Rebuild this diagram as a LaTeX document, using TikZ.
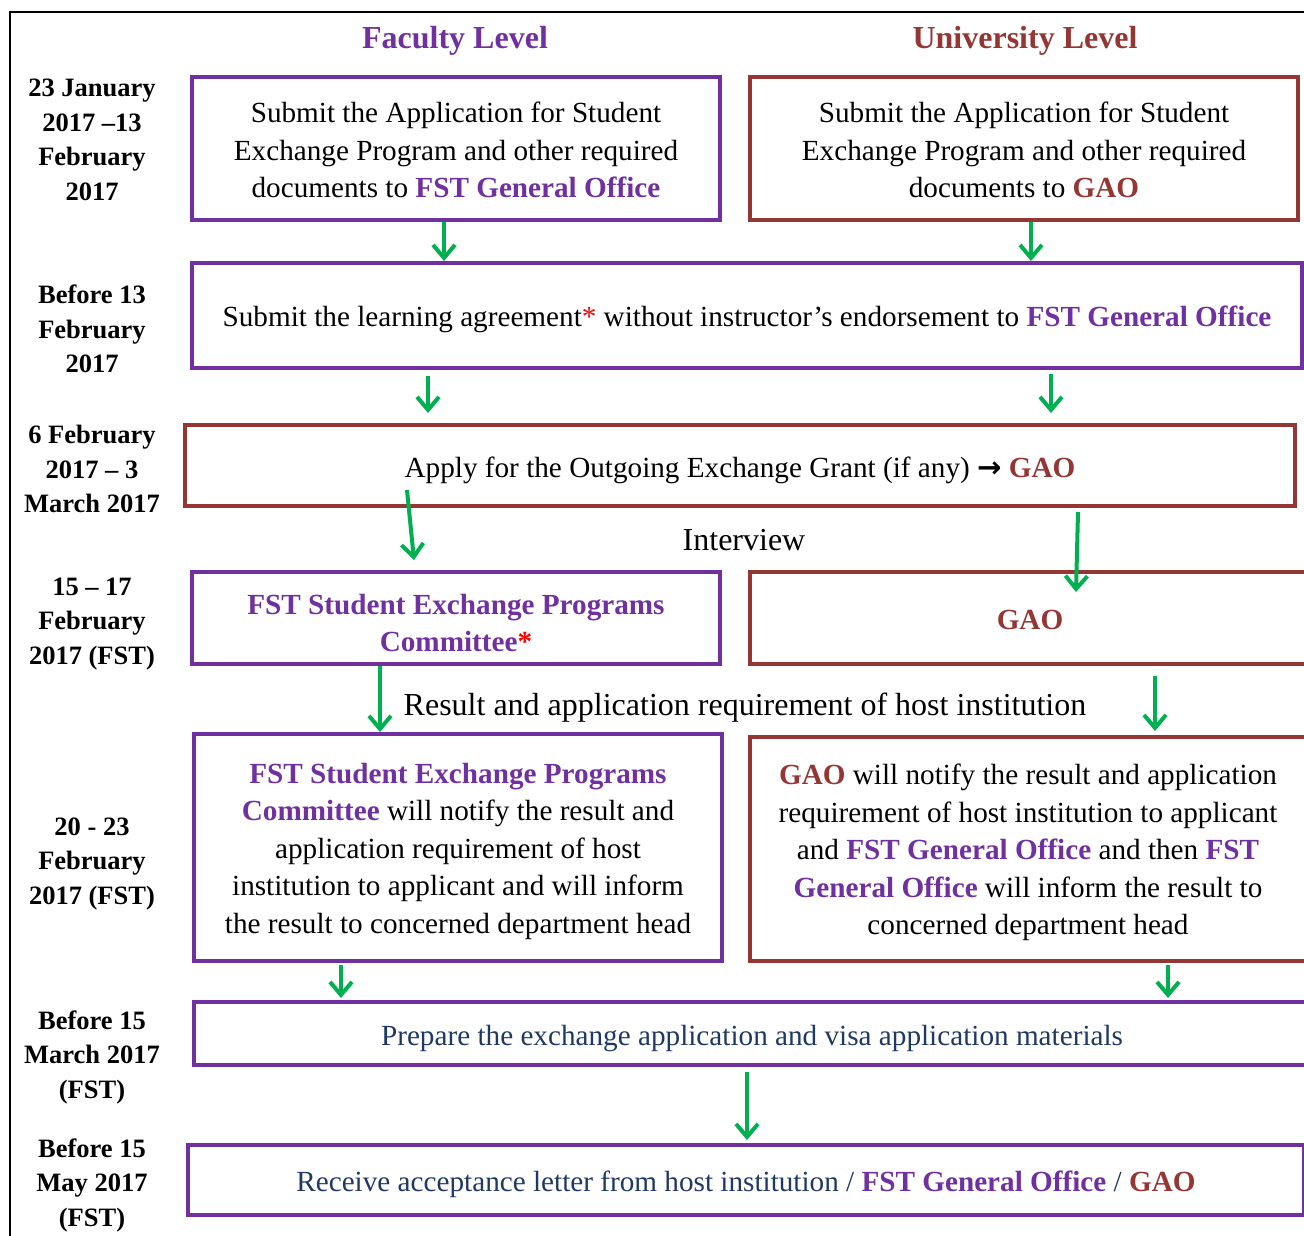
\documentclass[tikz,border=0pt]{standalone}
\usepackage{fontspec}
\setmainfont{Liberation Serif}
\newfontfamily\symfont{DejaVu Sans}
\usetikzlibrary{arrows.meta,calc}
\definecolor{purp}{HTML}{7030A0}
\definecolor{brn}{HTML}{943634}
\definecolor{grn}{HTML}{00B050}
\definecolor{navyc}{HTML}{1F3864}
\definecolor{astc}{HTML}{FF0000}
\newcommand{\purptext}[1]{\textbf{\textcolor{purp}{#1}}}
\newcommand{\brntext}[1]{\textbf{\textcolor{brn}{#1}}}
\newcommand{\redast}{\textcolor{astc}{*}}
\newcommand{\tup}[1]{\rule{0pt}{#1pt}}
\begin{document}
\begin{tikzpicture}[x=1pt,y=-1pt,
  boxp/.style={draw=purp,line width=4pt,inner sep=0pt,align=center,font=\fontsize{29.2}{37.5}\selectfont},
  boxb/.style={draw=brn,line width=4pt,inner sep=0pt,align=center,font=\fontsize{29.2}{37.5}\selectfont},
  datel/.style={align=center,font=\fontsize{26.5}{34.5}\selectfont\bfseries},
  lbl/.style={font=\fontsize{32}{38}\selectfont},
  hdr/.style={font=\fontsize{32}{38}\selectfont\bfseries},
  arr/.style={draw=grn,line width=4pt,-{Straight Barb[length=13pt,width=22pt,line width=4pt]}}]
\useasboundingbox (0,0) rectangle (1304,1236);
\clip (0,0) rectangle (1304,1236);
% frame
\draw[line width=2pt] (10,1240) -- (10,12) -- (1310,12);
% headers
\node[hdr,text=purp] (hfac) at (455,38) {\tup{28}Faculty Level};
\node[hdr,text=brn] (huni) at (1025,38) {\tup{28}University Level};
% dates
\node[datel] (d1) at (92,140) {23 January\\2017 --13\\February\\2017};
\node[datel] (d2) at (92,329) {Before 13\\February\\2017};
\node[datel] (d3) at (92,469) {6 February\\2017 -- 3\\March 2017};
\node[datel] (d4) at (92,624) {15 -- 17\\February\\2017 (FST)};
\node[datel] (d5) at (92,864) {20 - 23\\February\\2017 (FST)};
\node[datel] (d6) at (92,1057) {Before 15\\March 2017\\(FST)};
\node[datel] (d7) at (92,1185) {Before 15\\May 2017\\(FST)};
% boxes
\node[boxp,minimum width=528pt,minimum height=143pt] (b1) at (456,148.5)
  {\tup{24}Submit the Application for Student\\Exchange Program and other required\\documents to \purptext{FST General Office}};
\node[boxb,minimum width=548pt,minimum height=143pt] (b2) at (1024,148.5)
  {\tup{24}Submit the Application for Student\\Exchange Program and other required\\documents to \brntext{GAO}};
\node[boxp,minimum width=1110pt,minimum height=105pt] (b3) at (747,315.5)
  {\tup{28}Submit the learning agreement\redast{} without instructor’s endorsement to \purptext{FST General Office}};
\node[boxb,minimum width=1110pt,minimum height=81pt] (b4) at (740,465.5)
  {\tup{30}Apply for the Outgoing Exchange Grant (if any) {\symfont\bfseries →} \brntext{GAO}};
\node[boxp,minimum width=528pt,minimum height=92pt] (b5) at (456,618)
  {\tup{30}\purptext{FST Student Exchange Programs}\\\purptext{Committee}\textbf{\redast}};
\node[boxb,minimum width=560pt,minimum height=92pt] (b6) at (1030,618)
  {\tup{24}\brntext{GAO}};
\node[boxp,minimum width=528pt,minimum height=227pt] (b7) at (458,847.5)
  {\tup{28}\purptext{FST Student Exchange Programs}\\\purptext{Committee} will notify the result and\\application requirement of host\\institution to applicant and will inform\\the result to concerned department head};
\node[boxb,minimum width=556pt,minimum height=224pt] (b8) at (1028,849)
  {\tup{28}\brntext{GAO} will notify the result and application\\requirement of host institution to applicant\\and \purptext{FST General Office} and then \purptext{FST}\\\purptext{General Office} will inform the result to\\concerned department head};
\node[boxp,minimum width=1116pt,minimum height=63pt,text=navyc] (b9) at (752,1033.5)
  {\tup{30}Prepare the exchange application and visa application materials};
\node[boxp,minimum width=1116pt,minimum height=70pt,text=navyc] (b10) at (746,1180)
  {\tup{30}Receive acceptance letter from host institution / \purptext{FST General Office} / \brntext{GAO}};
% labels
\node[lbl] (interview) at (744,540) {Interview};
\node[lbl] (result) at (745,704) {\tup{30}Result and application requirement of host institution};
% arrows
\draw[arr] ([xshift=-12pt]b1.south) -- ([xshift=-12pt]b1.south |- b3.north);
\draw[arr] ([xshift=7pt]b2.south) -- ([xshift=7pt]b2.south |- b3.north);
\draw[arr,shorten <=6pt,shorten >=10pt] ([xshift=-319pt]b3.south) -- ([xshift=-319pt]b3.south |- b4.north);
\draw[arr,shorten <=4pt,shorten >=10pt] ([xshift=304pt]b3.south) -- ([xshift=304pt]b3.south |- b4.north);
\coordinate (a5s) at (407,490);
\coordinate (a5e) at (414,560);
\draw[arr] (a5s) -- (a5e);
\coordinate (a6s) at (1078,512);
\coordinate (a6e) at (1076,592);
\draw[arr] (a6s) -- (a6e);
\draw[arr] ([xshift=-76pt]b5.south) -- ([xshift=-76pt]b5.south |- b7.north);
\draw[arr,shorten <=10pt,shorten >=4pt] ([xshift=125pt]b6.south) -- ([xshift=125pt]b6.south |- b8.north);
\draw[arr,shorten <=2pt,shorten >=2pt] ([xshift=-117pt]b7.south) -- ([xshift=-117pt]b7.south |- b9.north);
\draw[arr,shorten <=2pt,shorten >=2pt] ([xshift=140pt]b8.south) -- ([xshift=140pt]b8.south |- b9.north);
\draw[arr,shorten <=5pt,shorten >=3pt] ([xshift=-5pt]b9.south) -- ([xshift=-5pt]b9.south |- b10.north);
\end{tikzpicture}
\end{document}
